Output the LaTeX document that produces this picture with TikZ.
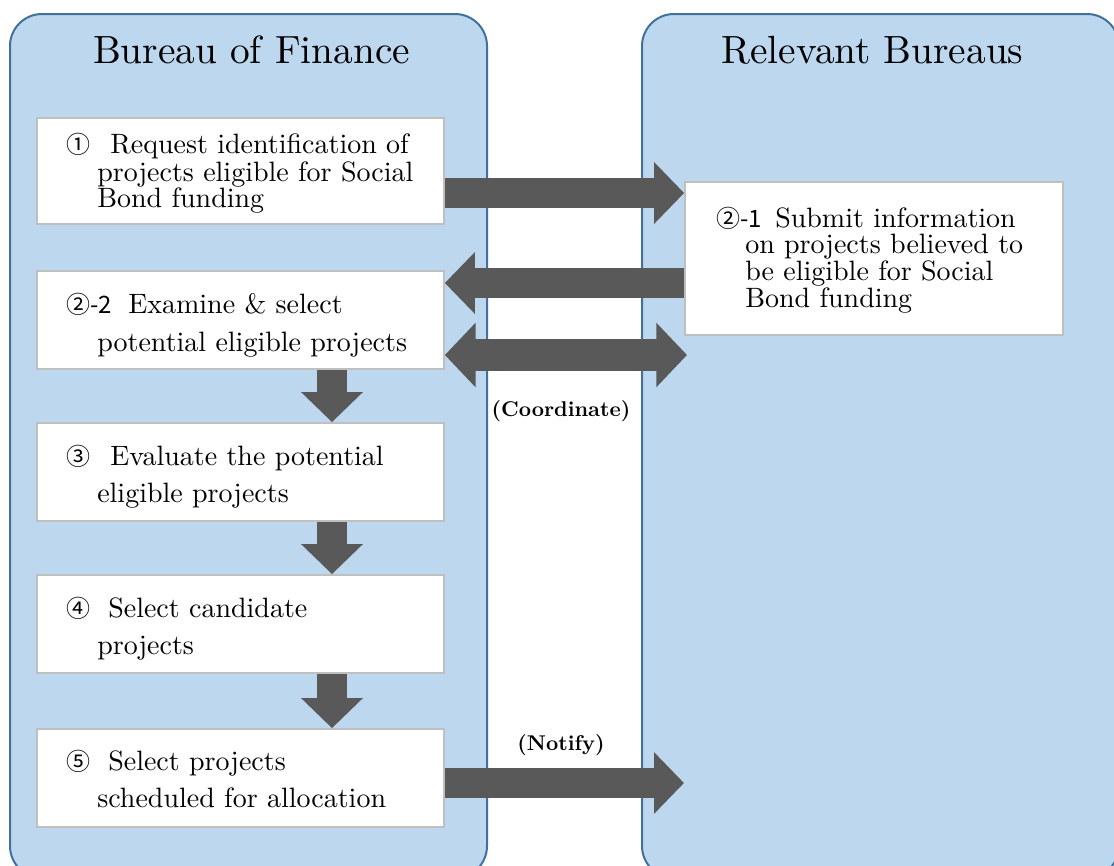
\documentclass[tikz,border=0pt]{standalone}
\usepackage{fontspec}
\setmainfont{lmroman10-regular.otf}[BoldFont=lmroman10-bold.otf]
\newfontfamily\cjkfont{Noto Sans CJK JP}
\usetikzlibrary{arrows.meta}
\definecolor{panelfill}{HTML}{BDD7EE}
\definecolor{paneldraw}{HTML}{41719C}
\definecolor{boxdraw}{HTML}{BFBFBF}
\definecolor{arrowc}{HTML}{595959}
\tikzset{
  panel/.style={fill=panelfill, draw=paneldraw, line width=1.5pt, rounded corners=24pt},
  ttl/.style={anchor=base, inner sep=0pt, font=\fontsize{29.5}{32}\selectfont},
  pbox/.style={draw=boxdraw, fill=white, line width=1.3pt, inner sep=0pt},
  ln/.style={anchor=base west, inner sep=0pt, font=\fontsize{21}{25}\selectfont},
  cn/.style={anchor=base west, inner sep=0pt, font=\cjkfont\fontsize{18}{20}\selectfont},
  lbl/.style={anchor=base, inner sep=0pt, font=\bfseries\fontsize{16}{18}\selectfont},
  blk/.style={draw=arrowc, line width=22.5pt, -{Triangle[length=22.5pt,width=45pt]}},
  dblk/.style={draw=arrowc, line width=23.5pt, {Triangle[length=23pt,width=47pt]}-{Triangle[length=23pt,width=47pt]}}
}
\begin{document}
\begin{tikzpicture}[x=0.75pt,y=-0.75pt]
\useasboundingbox (0,0) rectangle (1114,865);
\fill[white] (0,0) rectangle (1114,865);
% panels
\path[panel] (10,14) rectangle (487,878);
\path[panel] (642,14) rectangle (1119,878);
\node[ttl] (tfin) at (251.5,63) {Bureau of Finance};
\node[ttl] (trel) at (872.5,63) {Relevant Bureaus};
% boxes
\node[pbox, minimum width=305.25pt, minimum height=79.5pt] (b1) at (240.5,171) {};
\node[pbox, minimum width=305.25pt, minimum height=73.5pt] (b22) at (240.5,320) {};
\node[pbox, minimum width=305.25pt, minimum height=73.5pt] (b3) at (240.5,472) {};
\node[pbox, minimum width=305.25pt, minimum height=73.5pt] (b4) at (240.5,624) {};
\node[pbox, minimum width=305.25pt, minimum height=73.5pt] (b5) at (240.5,778) {};
\node[pbox, minimum width=283.5pt, minimum height=114.75pt] (b21) at (874,258.5) {};
% box texts
\node[cn] (c1) at (66,153) {①};
\node[ln] (l1a) at (110,153) {Request identification of};
\node[ln] (l1b) at (97,181) {projects eligible for Social};
\node[ln] (l1c) at (97,207) {Bond funding};
\node[cn] (c22) at (66,313) {②-2};
\node[ln] (l22a) at (128,313) {Examine \& select};
\node[ln] (l22b) at (97,351) {potential eligible projects};
\node[cn] (c3) at (66,465) {③};
\node[ln] (l3a) at (110,465) {Evaluate the potential};
\node[ln] (l3b) at (97,502) {eligible projects};
\node[cn] (c4) at (66,617) {④};
\node[ln] (l4a) at (108,617) {Select candidate};
\node[ln] (l4b) at (97,654) {projects};
\node[cn] (c5) at (66,770) {⑤};
\node[ln] (l5a) at (108,770) {Select projects};
\node[ln] (l5b) at (97,807) {scheduled for allocation};
\node[cn] (c21) at (716,227) {②-1};
\node[ln] (l21a) at (775,227) {Submit information};
\node[ln] (l21b) at (745,253) {on projects believed to};
\node[ln] (l21c) at (745,280) {be eligible for Social};
\node[ln] (l21d) at (745,307) {Bond funding};
% labels
\node[lbl] (lcoord) at (561,416) {(Coordinate)};
\node[lbl] (lnotify) at (561,750) {(Notify)};
% helper coordinates
\coordinate (y1) at (0,193);
\coordinate (y2) at (0,283);
\coordinate (y3) at (0,355);
\coordinate (y5) at (0,783);
\coordinate (dx) at (332,0);
\coordinate (e3) at (687,355);
\coordinate (e5) at (684,783);
% arrows
\draw[blk] (b1.east |- y1) -- (b21.west |- y1);
\draw[blk] (b21.west |- y2) -- (b22.east |- y2);
\draw[dblk] (b22.east |- y3) -- (e3);
\draw[blk] (b5.east |- y5) -- (e5);
\draw[blk] (b22.south -| dx) -- (b3.north -| dx);
\draw[blk] (b3.south -| dx) -- (b4.north -| dx);
\draw[blk] (b4.south -| dx) -- (b5.north -| dx);
\end{tikzpicture}
\end{document}
